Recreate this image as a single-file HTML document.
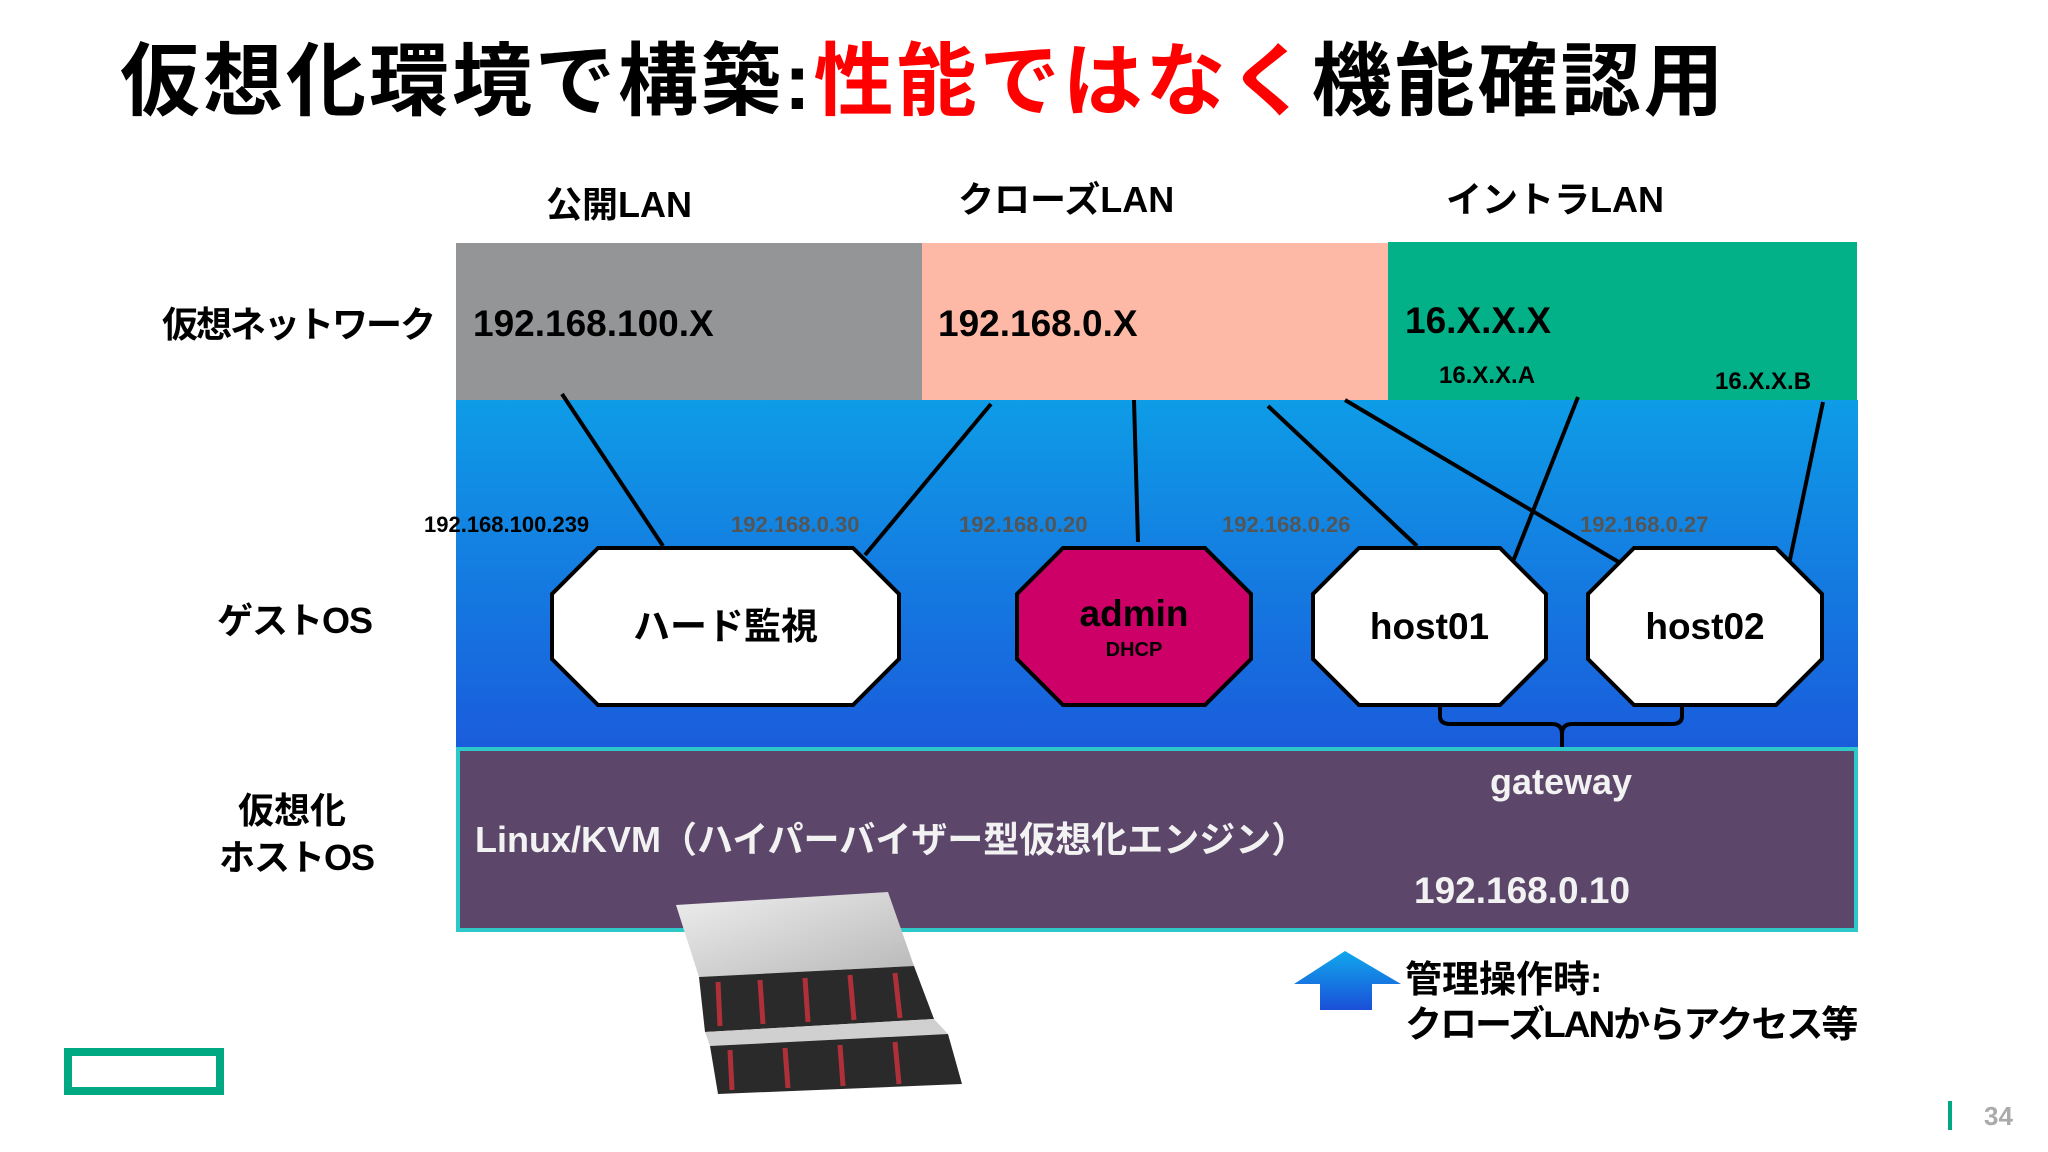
<!DOCTYPE html>
<html><head><meta charset="utf-8"><style>
body{margin:0;width:2048px;height:1152px;background:#fff;position:relative;overflow:hidden;font-family:"Liberation Sans","Noto Sans CJK JP",sans-serif;font-weight:bold}
.t{position:absolute;white-space:nowrap;line-height:1}
</style></head><body>
<svg width="2048" height="1152" style="position:absolute;left:0;top:0">
<defs><linearGradient id="bg" x1="0" y1="0" x2="0" y2="1"><stop offset="0" stop-color="#0e9ce6"/><stop offset="1" stop-color="#1a5cdc"/></linearGradient>
<linearGradient id="ar" x1="0" y1="0" x2="0" y2="1"><stop offset="0" stop-color="#10a8ec"/><stop offset="1" stop-color="#1a4fd8"/></linearGradient>
<linearGradient id="sv" x1="0" y1="0" x2="1" y2="1"><stop offset="0" stop-color="#eeeeee"/><stop offset="1" stop-color="#b8b8b8"/></linearGradient></defs>
<rect x="456" y="400" width="1402" height="347" fill="url(#bg)"/>
<rect x="456" y="243" width="466" height="157" fill="#939597"/>
<rect x="922" y="243" width="466" height="157" fill="#fdb9a5"/>
<rect x="1388" y="242" width="469" height="158" fill="#02b187"/>
<rect x="458" y="749" width="1398" height="181" fill="#5c4669" stroke="#2ec8c8" stroke-width="4"/>
<g stroke="#000" stroke-width="4">
<line x1="562" y1="394" x2="663" y2="546"/>
<line x1="991" y1="404" x2="865" y2="555"/>
<line x1="1134" y1="400" x2="1138" y2="542"/>
<line x1="1268" y1="406" x2="1417" y2="546"/>
<line x1="1345" y1="400" x2="1622" y2="564"/>
<line x1="1578" y1="397" x2="1512" y2="564"/>
<line x1="1823" y1="402" x2="1788" y2="569"/>
</g>
<g stroke="#000" stroke-width="4">
<polygon points="598,548 853,548 899,594 899,659 853,705 598,705 552,659 552,594" fill="#fff"/>
<polygon points="1063,548 1205,548 1251,594 1251,659 1205,705 1063,705 1017,659 1017,594" fill="#cc0066"/>
<polygon points="1359,548 1500,548 1546,594 1546,659 1500,705 1359,705 1313,659 1313,594" fill="#fff"/>
<polygon points="1634,548 1776,548 1822,594 1822,659 1776,705 1634,705 1588,659 1588,594" fill="#fff"/>
<path d="M1440,705 V716 Q1440,724 1450,724 H1552 Q1562,724 1562,734 V747 M1562,734 Q1562,724 1572,724 H1672 Q1682,724 1682,716 V705" fill="none"/>
</g>
<!-- server -->
<polygon points="676,905 888,892 914,966 699,977" fill="url(#sv)"/>
<polygon points="699,977 914,966 934,1019 705,1032" fill="#2a2a2a"/>
<polygon points="705,1032 934,1019 948,1034 710,1046" fill="#d0d0d0"/>
<polygon points="710,1046 948,1034 962,1084 718,1094" fill="#2a2a2a"/>
<g stroke="#b0303a" stroke-width="5"><line x1="718" y1="982" x2="720" y2="1026"/><line x1="760" y1="980" x2="763" y2="1024"/><line x1="805" y1="978" x2="808" y2="1022"/><line x1="850" y1="975" x2="854" y2="1020"/><line x1="895" y1="973" x2="900" y2="1018"/><line x1="730" y1="1050" x2="732" y2="1090"/><line x1="785" y1="1048" x2="788" y2="1088"/><line x1="840" y1="1045" x2="843" y2="1086"/><line x1="895" y1="1042" x2="899" y2="1084"/></g>
<!-- arrow -->
<polygon points="1345,951 1401,984 1372,984 1372,1010 1320,1010 1320,984 1294,984" fill="url(#ar)"/>
<rect x="68" y="1052" width="152" height="39" fill="none" stroke="#01a982" stroke-width="8"/>
<rect x="1948" y="1101" width="4" height="29" fill="#01a982"/>
</svg>
<div class="t" style="left:120px;top:42px;font-size:80px;letter-spacing:3px">仮想化環境で構築:<span style="color:#f00">性能ではなく</span>機能確認用</div>
<div class="t" style="left:546px;top:187px;font-size:36px">公開LAN</div>
<div class="t" style="left:958px;top:182px;font-size:36px">クローズLAN</div>
<div class="t" style="left:1446px;top:182px;font-size:36px">イントラLAN</div>
<div class="t" style="left:162px;top:307px;font-size:36px;letter-spacing:-2px">仮想ネットワーク</div>
<div class="t" style="left:217px;top:603px;font-size:36px;letter-spacing:-1px">ゲストOS</div>
<div class="t" style="left:238px;top:793px;font-size:36px">仮想化</div>
<div class="t" style="left:219px;top:840px;font-size:36px;letter-spacing:-1px">ホストOS</div>
<div class="t" style="left:473px;top:305px;font-size:37px">192.168.100.X</div>
<div class="t" style="left:938px;top:305px;font-size:37px">192.168.0.X</div>
<div class="t" style="left:1405px;top:302px;font-size:37px">16.X.X.X</div>
<div class="t" style="left:1439px;top:364px;font-size:24px">16.X.X.A</div>
<div class="t" style="left:1715px;top:370px;font-size:24px">16.X.X.B</div>
<div class="t" style="left:424px;top:514px;font-size:22px">192.168.100.239</div>
<div class="t" style="left:731px;top:514px;font-size:22px;color:#555">192.168.0.30</div>
<div class="t" style="left:959px;top:514px;font-size:22px;color:#555">192.168.0.20</div>
<div class="t" style="left:1222px;top:514px;font-size:22px;color:#555">192.168.0.26</div>
<div class="t" style="left:1580px;top:514px;font-size:22px;color:#555">192.168.0.27</div>
<div class="t" style="left:552px;top:608px;width:347px;text-align:center;font-size:37px">ハード監視</div>
<div class="t" style="left:1017px;top:595px;width:234px;text-align:center;font-size:37px">admin</div>
<div class="t" style="left:1017px;top:640px;width:234px;text-align:center;font-size:20px">DHCP</div>
<div class="t" style="left:1313px;top:608px;width:233px;text-align:center;font-size:37px">host01</div>
<div class="t" style="left:1588px;top:608px;width:234px;text-align:center;font-size:37px">host02</div>
<div class="t" style="left:1490px;top:764px;font-size:36px;color:#f2f2f2">gateway</div>
<div class="t" style="left:475px;top:822px;font-size:36px;color:#f2f2f2;letter-spacing:0px">Linux/KVM（ハイパーバイザー型仮想化エンジン）</div>
<div class="t" style="left:1414px;top:872px;font-size:37px;color:#f2f2f2">192.168.0.10</div>
<div class="t" style="left:1405px;top:961px;font-size:37px">管理操作時:</div>
<div class="t" style="left:1405px;top:1006px;font-size:37px;letter-spacing:-2px">クローズLANからアクセス等</div>
<div class="t" style="left:1984px;top:1103px;font-size:26px;color:#aaa">34</div>
</body></html>
